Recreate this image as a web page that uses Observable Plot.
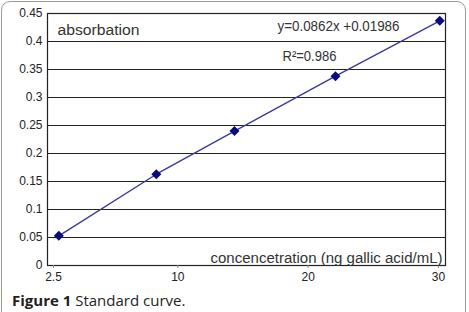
<!DOCTYPE html>
<html>
<head>
<meta charset="utf-8">
<script src="https://cdn.jsdelivr.net/npm/d3@7"></script>
<script src="https://cdn.jsdelivr.net/npm/@observablehq/plot@0.6"></script>
<style>
  html, body { margin: 0; padding: 0; background: #fff; width: 469px; height: 312px; overflow: hidden; }
  #wrap { position: relative; width: 469px; height: 312px; }
  #box { position: absolute; left: 1px; top: 1px; width: 463px; height: 330px; border: 1.5px solid #9a9a9a; border-radius: 9px; }
  #chart { position: absolute; left: 0; top: 0; }
  #caption { position: absolute; left: 12px; top: 290px; font-family: "Open Sans", sans-serif; font-size: 15px; color: #231f20; white-space: nowrap; }
  #caption b { font-weight: 700; }
</style>
</head>
<body>
<div id="wrap">
  <div id="box"></div>
  <div id="chart"></div>
  <div id="caption"><b>Figure 1</b> Standard curve.</div>
</div>
<script>
// Data (x in the chart's drawn axis units)
const concentration = [0.87, 8.35, 14.35, 22.1, 30.1];
const absorbance = [0.053, 0.163, 0.240, 0.338, 0.437];
const xTickValues = [0, 10, 20, 30];
const xTickLabels = ["2.5", "10", "20", "30"];
const yTickValues = [0, 0.05, 0.1, 0.15, 0.2, 0.25, 0.3, 0.35, 0.4, 0.45];
const yTickLabels = ["0", "0.05", "0.1", "0.15", "0.2", "0.25", "0.3", "0.35", "0.4", "0.45"];
const yLabel = "absorbation";
const xLabel = "concencetration (ng gallic acid/mL)";
const equationText = "y=0.0862x +0.01986";
const r2Text = "R\u00B2=0.986";

const points = concentration.map((c, i) => ({x: c, y: absorbance[i]}));
const font = "'Liberation Sans', Arial, sans-serif";

const chart = Plot.plot({
  width: 469,
  height: 290,
  marginLeft: 47,
  marginRight: 24,
  marginTop: 13,
  marginBottom: 25,
  style: {fontFamily: font, fontSize: "12px", color: "#222", background: "transparent"},
  x: {domain: [0, 30.54], label: null},
  y: {domain: [0, 0.45], label: null},
  marks: [
    Plot.gridY(yTickValues.slice(1), {stroke: "#222", strokeOpacity: 1, strokeWidth: 1.2}),
    Plot.frame({stroke: "#222", strokeWidth: 1.2}),
    Plot.axisY({ticks: yTickValues, tickFormat: (d, i) => yTickLabels[i], tickSize: 0, tickPadding: 5, fontSize: 12, label: null}),
    Plot.axisX({ticks: xTickValues.slice(1), tickFormat: (d, i) => xTickLabels[i + 1], tickSize: 3, tickPadding: 4, stroke: "#888", fontSize: 12, label: null}),
    Plot.axisX({ticks: xTickValues.slice(0, 1), tickFormat: () => xTickLabels[0], tickSize: 3, tickPadding: 4, stroke: "#888", fontSize: 12, dx: 6, label: null}),
    Plot.line(points, {x: "x", y: "y", stroke: "#3a3a9c", strokeWidth: 1.4}),
    Plot.dot(points, {x: "x", y: "y", symbol: "diamond2", r: 4.5, fill: "#0a0a80", stroke: "none"}),
    Plot.text([yLabel], {text: d => d, frameAnchor: "top-left", dx: 10, dy: 12, textAnchor: "start", fontSize: 14, fill: "#333"}),
    Plot.text([equationText], {text: d => d, frameAnchor: "top-left", dx: 230, dy: 8, textAnchor: "start", fontSize: 14, fill: "#333"}),
    Plot.text([r2Text], {text: d => d, frameAnchor: "top-left", dx: 235, dy: 38, textAnchor: "start", fontSize: 14, fill: "#333"}),
    Plot.text([xLabel], {text: d => d, frameAnchor: "bottom-right", dx: -3, dy: -3, textAnchor: "end", fontSize: 14, fill: "#333"})
  ]
});
document.getElementById("chart").appendChild(chart);

// fit annotation widths to the reference's condensed lettering
const fits = {[yLabel]: 82, [equationText]: 122, [r2Text]: 54, [xLabel]: 232};
d3.select(chart).selectAll("text").each(function() {
  const t = this.textContent;
  if (fits[t] !== undefined) {
    d3.select(this).attr("textLength", fits[t]).attr("lengthAdjust", "spacingAndGlyphs");
  }
});
</script>
</body>
</html>
